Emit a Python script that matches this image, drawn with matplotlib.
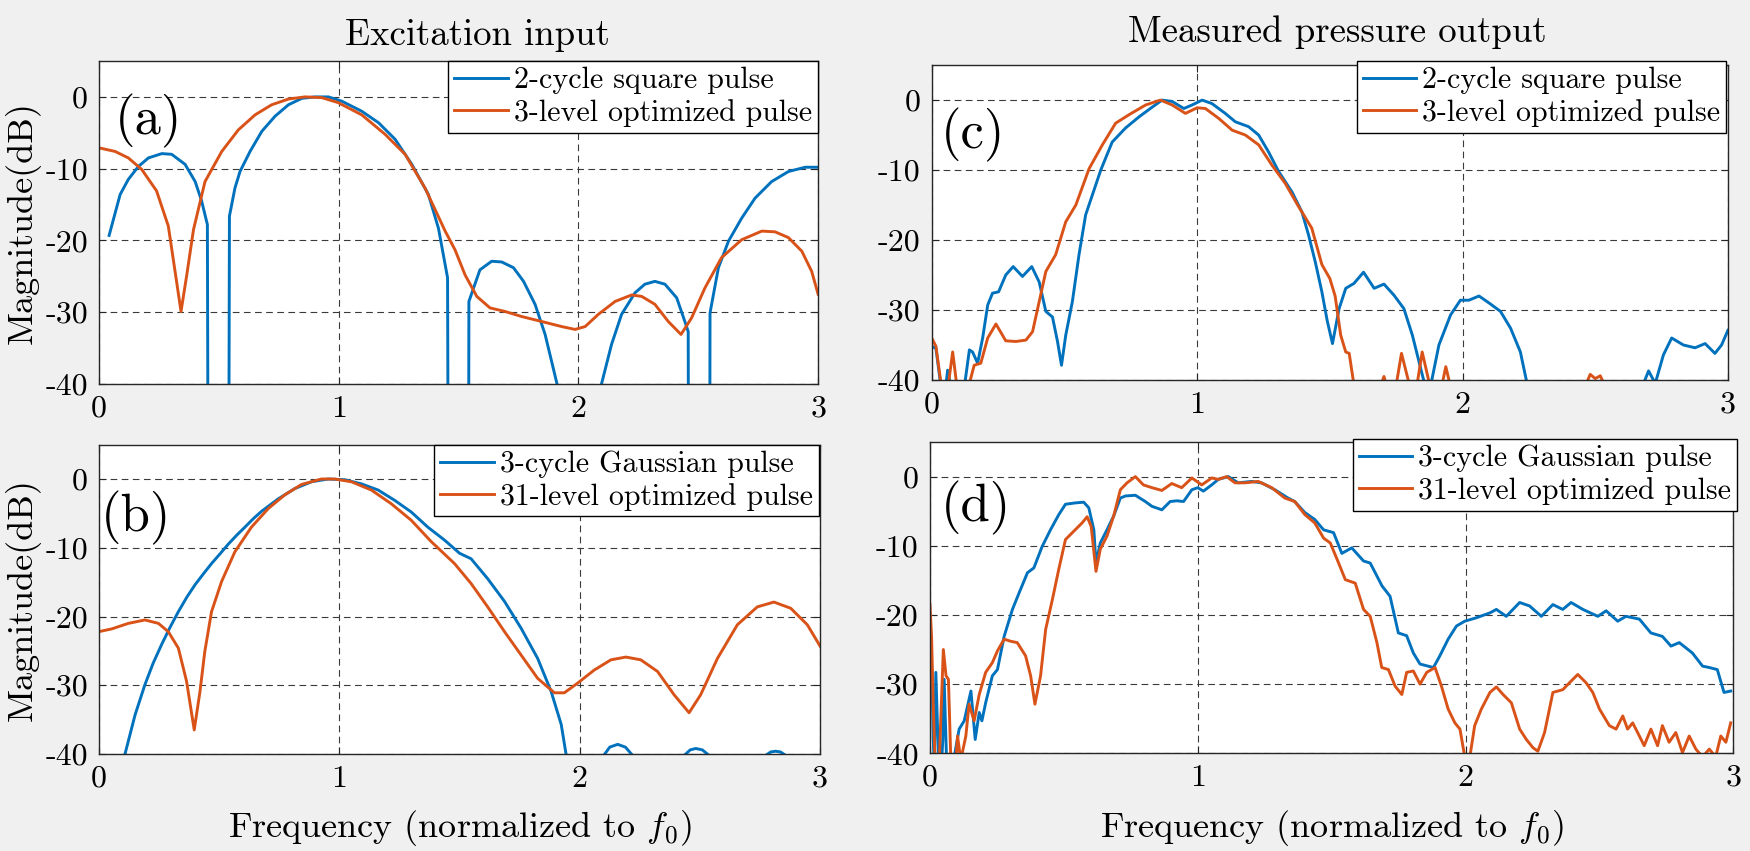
import matplotlib.pyplot as plt

# MATLAB-like look: Computer Modern text, hyphen minus, grey background
plt.rcParams['font.family'] = ['cmr10']
plt.rcParams['mathtext.fontset'] = 'cm'
plt.rcParams['axes.unicode_minus'] = False
plt.rcParams['axes.formatter.use_mathtext'] = True

BLUE = '#0072BD'
ORANGE = '#D95319'

# ---- data: (frequency / f0, magnitude dB) ----
# (a) excitation input
a_square = [(0.042, -19.3), (0.088, -13.6), (0.122, -11.5), (0.164, -9.7), (0.206, -8.5),
            (0.262, -7.9), (0.303, -8.0), (0.359, -9.4), (0.401, -11.8), (0.428, -14.5),
            (0.452, -17.8), (0.456, -70), (0.540, -70), (0.544, -16.6), (0.567, -12.7),
            (0.588, -10.4), (0.630, -7.6), (0.679, -4.8), (0.734, -2.7), (0.790, -1.1),
            (0.846, -0.2), (0.901, 0.0), (0.957, 0.0), (1.013, -0.6), (1.096, -2.0),
            (1.166, -3.6), (1.235, -5.9), (1.305, -9.4), (1.374, -13.6), (1.416, -18.3),
            (1.454, -25.2), (1.458, -70), (1.541, -70), (1.543, -28.5), (1.589, -24.1),
            (1.638, -22.9), (1.680, -23.0), (1.729, -23.8), (1.771, -25.7), (1.819, -28.9),
            (1.861, -33.1), (1.910, -39.9), (1.960, -50), (2.040, -50), (2.097, -39.9),
            (2.138, -34.5), (2.180, -30.3), (2.236, -27.3), (2.277, -26.1), (2.319, -25.7),
            (2.361, -26.1), (2.410, -28.0), (2.444, -31.3), (2.458, -32.7), (2.460, -70),
            (2.547, -70), (2.549, -30.1), (2.584, -23.8), (2.626, -20.1), (2.681, -16.9),
            (2.737, -14.1), (2.806, -11.8), (2.876, -10.4), (2.946, -9.8), (3.000, -9.8)]
a_3level = [(0.000, -7.1), (0.067, -7.6), (0.122, -8.5), (0.178, -10.1), (0.240, -13.1),
            (0.289, -18.0), (0.342, -29.9), (0.366, -24.8), (0.394, -18.5), (0.442, -11.8),
            (0.512, -7.6), (0.581, -4.6), (0.651, -2.5), (0.720, -1.1), (0.790, -0.3),
            (0.859, 0.0), (0.929, -0.1), (0.998, -0.8), (1.096, -2.5), (1.193, -5.2),
            (1.277, -8.0), (1.360, -12.7), (1.444, -18.7), (1.485, -21.3), (1.527, -24.8),
            (1.576, -27.8), (1.631, -29.4), (1.694, -29.9), (1.763, -30.6), (1.847, -31.3),
            (1.930, -32.0), (1.986, -32.4), (2.028, -32.0), (2.083, -30.3), (2.153, -28.5),
            (2.222, -27.6), (2.264, -27.8), (2.319, -28.9), (2.375, -31.3), (2.428, -33.1),
            (2.472, -30.8), (2.528, -26.6), (2.597, -22.4), (2.681, -19.9), (2.765, -18.7),
            (2.820, -18.8), (2.876, -19.6), (2.932, -21.5), (2.973, -24.3), (3.000, -27.5)]

# (b) excitation input
b_gauss = [(0.050, -50), (0.108, -40.0), (0.150, -34.3), (0.191, -29.9), (0.225, -26.8),
           (0.260, -24.1), (0.295, -21.6), (0.330, -19.3), (0.365, -17.2), (0.399, -15.4),
           (0.434, -13.8), (0.468, -12.3), (0.503, -10.9), (0.537, -9.5), (0.572, -8.2),
           (0.607, -7.0), (0.641, -5.8), (0.676, -4.7), (0.745, -2.9), (0.814, -1.4),
           (0.884, -0.4), (0.953, 0.0),
           (1.022, -0.1), (1.091, -0.7), (1.161, -1.6), (1.230, -3.1), (1.299, -4.8),
           (1.368, -7.0), (1.438, -8.9), (1.500, -10.8), (1.548, -11.6), (1.617, -14.5),
           (1.687, -17.8), (1.756, -21.7), (1.825, -26.1), (1.881, -30.9), (1.923, -35.7),
           (1.943, -40.0), (1.990, -55), (2.030, -60), (2.100, -40.2), (2.125, -39.0),
           (2.158, -38.6), (2.190, -39.0), (2.220, -40.2), (2.300, -60), (2.435, -40.2),
           (2.460, -39.4), (2.483, -39.2), (2.510, -39.4), (2.538, -40.2), (2.650, -60),
           (2.774, -40.2), (2.795, -39.7), (2.815, -39.6), (2.835, -39.7), (2.857, -40.2),
           (2.950, -60), (3.000, -60)]
b_31level = [(0.000, -22.2), (0.053, -21.8), (0.122, -21.0), (0.191, -20.5), (0.247, -21.0),
             (0.288, -22.2), (0.330, -24.6), (0.364, -29.4), (0.396, -36.5), (0.420, -30.9),
             (0.440, -25.1), (0.468, -19.3), (0.510, -14.9), (0.565, -10.6), (0.634, -7.0),
             (0.704, -4.3), (0.773, -2.3), (0.842, -0.8), (0.925, 0.0), (0.981, 0.0),
             (1.050, -0.4), (1.133, -1.6), (1.216, -3.6), (1.299, -6.0), (1.382, -9.1),
             (1.479, -12.3), (1.548, -15.2), (1.617, -18.6), (1.687, -22.2), (1.756, -25.6),
             (1.825, -29.0), (1.895, -31.1), (1.936, -31.1), (1.991, -29.7), (2.060, -27.8),
             (2.130, -26.3), (2.192, -25.9), (2.254, -26.3), (2.324, -28.0), (2.393, -31.4),
             (2.455, -34.0), (2.503, -31.4), (2.573, -26.1), (2.656, -21.2), (2.739, -18.6),
             (2.808, -17.9), (2.878, -18.8), (2.947, -21.2), (3.000, -24.3)]

# (c) measured pressure output
c_square = [(0.000, -35.2), (0.016, -35.5), (0.035, -41), (0.050, -42), (0.060, -38.6),
            (0.073, -41), (0.100, -45), (0.123, -41), (0.142, -35.7), (0.154, -36.0),
            (0.173, -37.6), (0.192, -34.0), (0.211, -29.3), (0.229, -27.6), (0.252, -27.4),
            (0.279, -25.0), (0.307, -23.8), (0.342, -25.2), (0.377, -23.8), (0.405, -26.0),
            (0.430, -30.2), (0.455, -31.0), (0.474, -34.5), (0.489, -37.9), (0.505, -33.6),
            (0.530, -28.8), (0.555, -22.1), (0.580, -16.4), (0.605, -13.6), (0.637, -10.0),
            (0.680, -6.0), (0.730, -4.0), (0.781, -2.4), (0.831, -1.0), (0.868, 0.0),
            (0.906, -0.2), (0.950, -1.2), (0.981, -0.7), (1.019, 0.0), (1.056, -0.5),
            (1.106, -1.9), (1.144, -3.1), (1.194, -3.8), (1.232, -5.0), (1.269, -7.4),
            (1.307, -10.2), (1.357, -13.1), (1.395, -16.0), (1.420, -19.3), (1.445, -23.1),
            (1.470, -27.4), (1.490, -31.5), (1.510, -34.8), (1.535, -29.8), (1.560, -26.9),
            (1.591, -26.2), (1.627, -24.6), (1.667, -26.9), (1.704, -26.3), (1.742, -27.9),
            (1.779, -29.8), (1.811, -33.6), (1.842, -38.3), (1.860, -41), (1.870, -42),
            (1.879, -41), (1.911, -35.0), (1.955, -30.7), (1.992, -28.6), (2.024, -28.6),
            (2.062, -28.0), (2.100, -29.0), (2.143, -30.2), (2.181, -32.6), (2.218, -36.0),
            (2.243, -40.5), (2.350, -48), (2.550, -48), (2.682, -40.5), (2.701, -38.7),
            (2.726, -40.5), (2.757, -36.4), (2.788, -34.0), (2.832, -35.0), (2.876, -35.4),
            (2.914, -34.8), (2.951, -36.2), (2.976, -35.0), (3.000, -32.9)]
c_3level = [(0.000, -34.0), (0.016, -35.2), (0.035, -40.5), (0.050, -43), (0.065, -40),
            (0.079, -36.0), (0.092, -40), (0.110, -44), (0.142, -40.5), (0.160, -37.9),
            (0.185, -37.6), (0.211, -34.0), (0.242, -32.0), (0.279, -34.4), (0.317, -34.5),
            (0.355, -34.3), (0.380, -33.1), (0.405, -28.8), (0.430, -24.5), (0.467, -22.1),
            (0.505, -17.4), (0.543, -15.0), (0.593, -9.8), (0.643, -6.4), (0.693, -3.3),
            (0.743, -2.1), (0.806, -0.7), (0.862, 0.0), (0.906, -0.7), (0.956, -1.9),
            (1.000, -1.1), (1.031, -1.2), (1.081, -2.6), (1.132, -4.3), (1.182, -5.0),
            (1.232, -6.4), (1.282, -9.3), (1.332, -11.9), (1.382, -15.2), (1.432, -18.3),
            (1.470, -23.5), (1.500, -25.5), (1.520, -28.0), (1.541, -33.6), (1.560, -36.0),
            (1.573, -36.2), (1.590, -40.5), (1.640, -45), (1.690, -41), (1.704, -39.5),
            (1.715, -41), (1.740, -43), (1.770, -36.2), (1.802, -41), (1.823, -42),
            (1.848, -36.0), (1.878, -41), (1.910, -43), (1.937, -38.1), (1.955, -41),
            (2.100, -50), (2.300, -48), (2.450, -42), (2.481, -39.2), (2.500, -39.8),
            (2.519, -39.4), (2.538, -41), (2.700, -50), (3.000, -50)]

# (d) measured pressure output
d_gauss = [(0.000, -21.1), (0.007, -27.9), (0.012, -37.5), (0.016, -42), (0.022, -28.3),
           (0.032, -41), (0.040, -44), (0.048, -38), (0.053, -29.3), (0.062, -41),
           (0.084, -42), (0.109, -36.5), (0.128, -35.3), (0.153, -31.0), (0.169, -38.0),
           (0.184, -34.1), (0.194, -35.3), (0.208, -32.7), (0.233, -28.8), (0.252, -27.9),
           (0.277, -23.1), (0.308, -19.2), (0.333, -16.8), (0.364, -13.9), (0.388, -13.2),
           (0.419, -10.1), (0.450, -7.7), (0.481, -5.5), (0.506, -4.0), (0.543, -3.8),
           (0.574, -3.7), (0.593, -4.5), (0.612, -7.7), (0.620, -12.5), (0.636, -9.6),
           (0.661, -7.7), (0.686, -5.7), (0.711, -3.1), (0.730, -2.8), (0.767, -2.7),
           (0.804, -3.6), (0.829, -4.3), (0.866, -4.8), (0.897, -3.6), (0.922, -3.5),
           (0.947, -3.6), (0.978, -1.9), (1.000, -1.6), (1.021, -2.1), (1.052, -1.2),
           (1.077, -0.4), (1.114, 0.0), (1.151, -0.9), (1.201, -0.7), (1.238, -0.9),
           (1.288, -1.9), (1.337, -3.1), (1.362, -3.6), (1.400, -5.2), (1.437, -6.2),
           (1.470, -7.7), (1.507, -8.1), (1.538, -11.1), (1.575, -10.3), (1.619, -12.2),
           (1.644, -12.5), (1.688, -15.8), (1.718, -17.3), (1.749, -22.6), (1.780, -23.0),
           (1.805, -25.5), (1.830, -27.1), (1.880, -27.6), (1.904, -25.9), (1.935, -23.5),
           (1.966, -21.6), (1.997, -20.9), (2.041, -20.4), (2.091, -19.7), (2.115, -19.2),
           (2.152, -20.2), (2.202, -18.2), (2.239, -18.7), (2.283, -20.2), (2.326, -18.5),
           (2.363, -19.2), (2.394, -18.2), (2.438, -19.2), (2.494, -20.2), (2.525, -19.4),
           (2.568, -20.9), (2.599, -20.2), (2.649, -20.6), (2.692, -22.6), (2.735, -23.1),
           (2.767, -24.5), (2.798, -24.0), (2.847, -25.5), (2.885, -27.4), (2.910, -27.6),
           (2.940, -27.9), (2.965, -31.2), (2.990, -31.0)]
d_31level = [(0.000, -18.5), (0.006, -23.1), (0.012, -32.7), (0.019, -41), (0.035, -41),
             (0.050, -25.0), (0.060, -28.8), (0.069, -29.3), (0.078, -41), (0.097, -41),
             (0.103, -37.5), (0.115, -41), (0.134, -37.5), (0.146, -32.9), (0.165, -35.3),
             (0.184, -31.5), (0.208, -28.3), (0.233, -26.9), (0.252, -25.2), (0.277, -23.5),
             (0.301, -23.8), (0.326, -24.0), (0.357, -25.9), (0.376, -28.8), (0.392, -32.9),
             (0.413, -28.8), (0.432, -22.1), (0.457, -17.8), (0.481, -13.4), (0.506, -9.1),
             (0.537, -7.9), (0.568, -6.7), (0.587, -5.8), (0.602, -7.2), (0.620, -13.7),
             (0.636, -10.5), (0.661, -8.6), (0.686, -5.7), (0.711, -1.9), (0.736, -0.9),
             (0.767, 0.0), (0.797, -1.2), (0.829, -1.6), (0.866, -2.0), (0.903, -1.0),
             (0.940, -1.6), (0.978, -0.2), (1.015, -1.2), (1.052, -0.2), (1.077, -0.4),
             (1.108, 0.0), (1.139, -0.9), (1.176, -0.9), (1.226, -0.7), (1.276, -1.6),
             (1.325, -3.1), (1.362, -3.6), (1.400, -5.5), (1.437, -6.7), (1.470, -8.9),
             (1.495, -9.6), (1.526, -12.5), (1.551, -14.9), (1.588, -15.4), (1.619, -19.2),
             (1.644, -20.2), (1.669, -24.0), (1.687, -27.6), (1.712, -27.9), (1.737, -30.3),
             (1.762, -31.5), (1.780, -28.3), (1.805, -28.1), (1.830, -30.0), (1.855, -28.3),
             (1.886, -27.6), (1.910, -30.3), (1.935, -33.6), (1.960, -35.6), (1.979, -36.5),
             (1.997, -40.5), (2.016, -40.5), (2.034, -36.0), (2.059, -33.6), (2.091, -31.2),
             (2.115, -30.4), (2.140, -31.5), (2.171, -32.7), (2.202, -36.5), (2.227, -38.0),
             (2.252, -39.2), (2.270, -39.7), (2.295, -37.0), (2.326, -31.2), (2.363, -30.8),
             (2.388, -29.8), (2.419, -28.6), (2.450, -29.8), (2.475, -31.2), (2.500, -33.6),
             (2.537, -36.0), (2.562, -36.5), (2.587, -34.6), (2.605, -36.5), (2.624, -35.6),
             (2.649, -37.5), (2.667, -38.9), (2.692, -36.5), (2.717, -38.9), (2.735, -36.0),
             (2.760, -38.4), (2.785, -37.0), (2.810, -39.9), (2.835, -37.5), (2.860, -39.4),
             (2.885, -40.5), (2.910, -39.4), (2.934, -40.5), (2.953, -37.5), (2.972, -38.4),
             (2.990, -35.6)]

legend_ab = ['2-cycle square pulse', '3-level optimized pulse']
legend_cd = ['3-cycle Gaussian pulse', '31-level optimized pulse']
x_ticks = [0, 1, 2, 3]
y_ticks = [-40, -30, -20, -10, 0]
y_ticklabels = ['-40', '-30', '-20', '-10', '0']

fig = plt.figure(figsize=(17.5, 8.51), dpi=100, facecolor='#f0f0f0')

ax_a = fig.add_axes([0.0566, 0.5488, 0.4109, 0.3795])
ax_c = fig.add_axes([0.5324, 0.5535, 0.4550, 0.3700])
ax_b = fig.add_axes([0.0566, 0.1140, 0.4120, 0.3635])
ax_d = fig.add_axes([0.5314, 0.1148, 0.4591, 0.3658])

panels = [
    (ax_a, a_square, a_3level, legend_ab, '(a)', (0.022, 0.815), (1.0, 1.0)),
    (ax_c, c_square, c_3level, legend_ab, '(c)', (0.012, 0.778), (0.998, 1.013)),
    (ax_b, b_gauss, b_31level, legend_cd, '(b)', (0.002, 0.763), (0.998, 1.0)),
    (ax_d, d_gauss, d_31level, legend_cd, '(d)', (0.014, 0.788), (1.005, 1.01)),
]

for ax, s1, s2, labels, tag, tag_pos, leg_anchor in panels:
    x1, y1 = zip(*s1)
    x2, y2 = zip(*s2)
    ax.plot(x1, y1, color=BLUE, lw=2.1, label=labels[0])
    ax.plot(x2, y2, color=ORANGE, lw=2.1, label=labels[1])
    ax.set_xlim(0, 3)
    ax.set_ylim(-40, 5)
    ax.set_xticks(x_ticks)
    ax.set_xticklabels([str(t) for t in x_ticks])
    ax.set_yticks(y_ticks)
    ax.set_yticklabels(y_ticklabels)
    ax.tick_params(labelsize=23, direction='in', length=5, top=True, right=True,
                   color='#262626', pad=8)
    ax.grid(True, color='#3a3a3a', linestyle=(0, (6, 4)), linewidth=0.8)
    for sp in ax.spines.values():
        sp.set_color('#262626')
        sp.set_linewidth(1.0)
    ax.text(tag_pos[0], tag_pos[1], tag, transform=ax.transAxes, fontsize=38,
            ha='left', va='center')
    leg = ax.legend(loc='upper right', bbox_to_anchor=leg_anchor, borderaxespad=0,
                    fontsize=21.5, fancybox=False, framealpha=1, edgecolor='black',
                    handlelength=1.8, handletextpad=0.2, borderpad=0.2, labelspacing=0.15)
    leg.get_frame().set_linewidth(1.0)

ax_a.set_ylabel('Magnitude(dB)', fontsize=26, va='center')
ax_a.yaxis.set_label_coords(-0.106, 0.5)
ax_b.set_ylabel('Magnitude(dB)', fontsize=26, va='center')
ax_b.yaxis.set_label_coords(-0.106, 0.5)
ax_b.set_xlabel('Frequency (normalized to $f_0$)', fontsize=26, va='center')
ax_b.xaxis.set_label_coords(0.5, -0.239)
ax_d.set_xlabel('Frequency (normalized to $f_0$)', fontsize=26, va='center')
ax_d.xaxis.set_label_coords(0.5, -0.239)

fig.text(0.2726, 0.9589, 'Excitation input', fontsize=26.5, ha='center', va='center')
fig.text(0.7640, 0.9624, 'Measured pressure output', fontsize=26.5, ha='center', va='center')

plt.savefig('out.png', dpi=100, facecolor=fig.get_facecolor())
